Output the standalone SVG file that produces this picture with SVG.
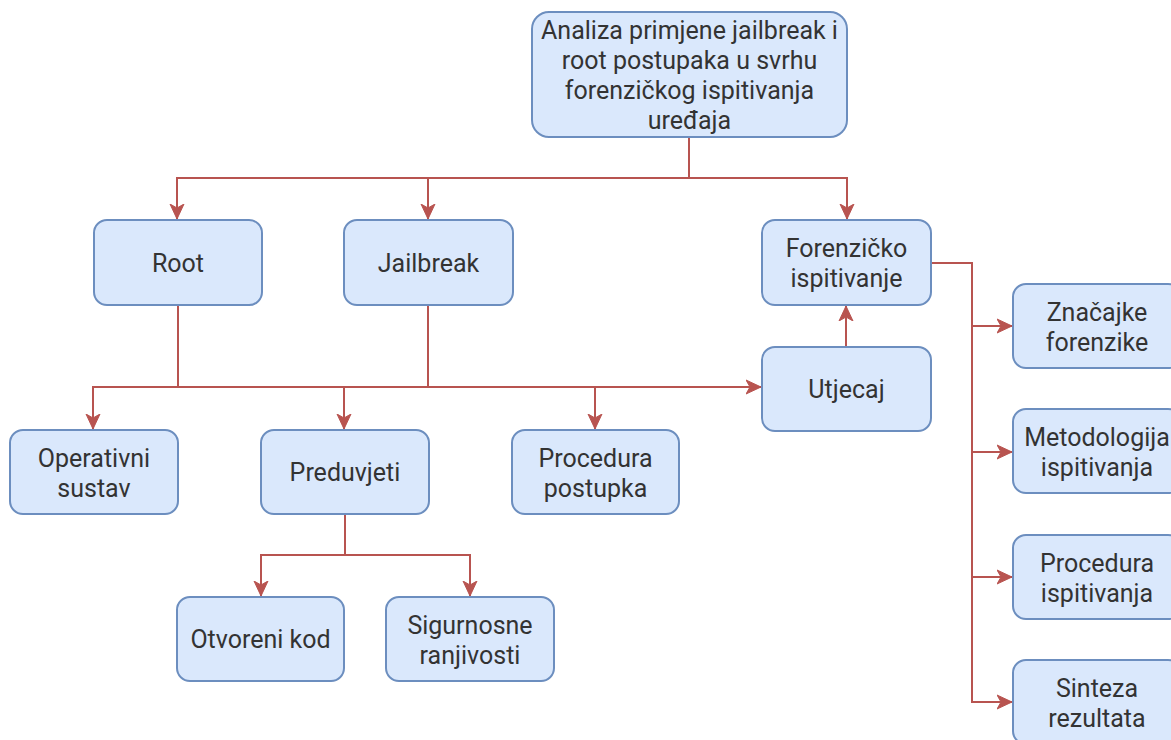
<svg xmlns="http://www.w3.org/2000/svg" width="1171" height="740" viewBox="0 0 1171 740">
<style>
.n rect{fill:#dae8fc;stroke:#6c8ebf;stroke-width:2}
.n text{font-family:Roboto,"Liberation Sans",sans-serif;font-size:25px;fill:#333;text-anchor:middle}
.e path{fill:none;stroke:#b85450;stroke-width:2}
</style>
<defs>
<marker id="a" markerUnits="userSpaceOnUse" markerWidth="16" markerHeight="16" viewBox="0 0 16 16" refX="15" refY="8" orient="auto">
<path d="M0,1 L15,8 L0,15 L4,8 Z" fill="#b85450" stroke="#b85450" stroke-width="1"/>
</marker>
</defs>
<g class="e">
<path d="M689,137 V178 H177 V219" marker-end="url(#a)"/>
<path d="M689,178 H428 V219" marker-end="url(#a)"/>
<path d="M689,178 H847 V219" marker-end="url(#a)"/>
<path d="M846,347 V306" marker-end="url(#a)"/>
<path d="M178,305 V387"/>
<path d="M428,305 V387"/>
<path d="M93,429 V387 H761" marker-end="url(#a)"/>
<path d="M93,387 V429" marker-end="url(#a)"/>
<path d="M344,387 V429" marker-end="url(#a)"/>
<path d="M595,387 V429" marker-end="url(#a)"/>
<path d="M345,514 V555 H261 V596" marker-end="url(#a)"/>
<path d="M345,555 H470 V596" marker-end="url(#a)"/>
<path d="M931,263 H972 V326 H1012" marker-end="url(#a)"/>
<path d="M972,326 V452 H1012" marker-end="url(#a)"/>
<path d="M972,452 V577 H1012" marker-end="url(#a)"/>
<path d="M972,577 V702 H1012" marker-end="url(#a)"/>
</g>
<g id="top" class="n"><rect x="532" y="12" width="315" height="125" rx="17"/>
<text x="689.5" y="39">Analiza primjene jailbreak i</text>
<text x="689.5" y="69">root postupaka u svrhu</text>
<text x="689.5" y="99">forenzičkog ispitivanja</text>
<text x="689.5" y="129">uređaja</text></g>
<g id="root" class="n"><rect x="94" y="220" width="168" height="85" rx="13"/><text x="178" y="272">Root</text></g>
<g id="jailbreak" class="n"><rect x="344" y="220" width="169" height="85" rx="13"/><text x="428.5" y="272">Jailbreak</text></g>
<g id="forenzicko" class="n"><rect x="762" y="220" width="169" height="85" rx="13"/><text x="846.5" y="257">Forenzičko</text><text x="846.5" y="287">ispitivanje</text></g>
<g id="utjecaj" class="n"><rect x="762" y="347" width="169" height="84" rx="13"/><text x="846.5" y="398">Utjecaj</text></g>
<g id="operativni" class="n"><rect x="10" y="430" width="168" height="84" rx="13"/><text x="94" y="467">Operativni</text><text x="94" y="497">sustav</text></g>
<g id="preduvjeti" class="n"><rect x="261" y="430" width="168" height="84" rx="13"/><text x="345" y="481">Preduvjeti</text></g>
<g id="procedura-postupka" class="n"><rect x="512" y="430" width="167" height="84" rx="13"/><text x="595.5" y="467">Procedura</text><text x="595.5" y="497">postupka</text></g>
<g id="otvoreni" class="n"><rect x="177" y="597" width="167" height="84" rx="13"/><text x="260.5" y="648">Otvoreni kod</text></g>
<g id="sigurnosne" class="n"><rect x="386" y="597" width="168" height="84" rx="13"/><text x="470" y="634">Sigurnosne</text><text x="470" y="664">ranjivosti</text></g>
<g id="znacajke" class="n"><rect x="1013" y="284" width="168" height="84" rx="13"/><text x="1097" y="321">Značajke</text><text x="1097" y="351">forenzike</text></g>
<g id="metodologija" class="n"><rect x="1013" y="409" width="168" height="84" rx="13"/><text x="1097" y="446">Metodologija</text><text x="1097" y="476">ispitivanja</text></g>
<g id="procedura-ispitivanja" class="n"><rect x="1013" y="535" width="168" height="84" rx="13"/><text x="1097" y="572">Procedura</text><text x="1097" y="602">ispitivanja</text></g>
<g id="sinteza" class="n"><rect x="1013" y="660" width="168" height="84" rx="13"/><text x="1097" y="697">Sinteza</text><text x="1097" y="727">rezultata</text></g>
</svg>
